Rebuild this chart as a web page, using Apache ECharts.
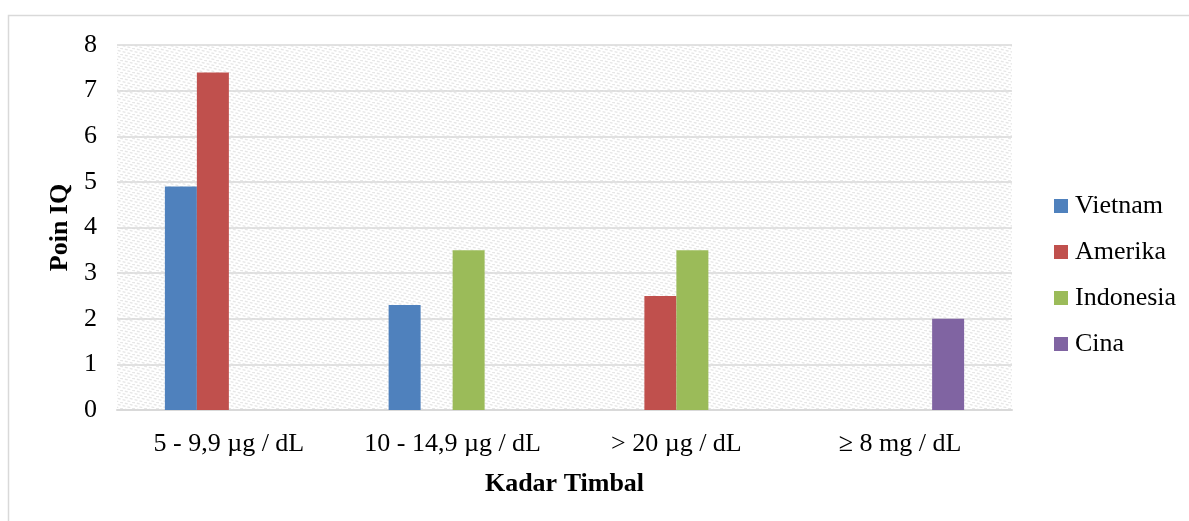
<!DOCTYPE html>
<html>
<head>
<meta charset="utf-8">
<script src="https://cdn.jsdelivr.net/npm/echarts@6/dist/echarts.min.js"></script>
<style>
html,body{margin:0;padding:0;background:#fff;}
#chart{width:1189px;height:521px;}
</style>
</head>
<body>
<div id="chart"></div>
<script>
const categories = ['5 - 9,9 µg / dL', '10 - 14,9 µg / dL', '> 20 µg / dL', '≥ 8 mg / dL'];
const vietnam   = [4.9, 2.3, null, null];
const amerika   = [7.4, null, 2.5, null];
const indonesia = [null, 3.5, 3.5, null];
const cina      = [null, null, null, 2];
const seriesNames = ['Vietnam', 'Amerika', 'Indonesia', 'Cina'];
const yTicks = [0, 1, 2, 3, 4, 5, 6, 7, 8];

function makePattern() {
  const c = document.createElement('canvas');
  c.width = 12; c.height = 6;
  const g = c.getContext('2d');
  g.fillStyle = '#ffffff';
  g.fillRect(0, 0, 12, 6);
  g.strokeStyle = '#e6e6e6';
  g.lineWidth = 1.4;
  g.setLineDash([3, 2]);
  g.beginPath();
  g.moveTo(-12, 0); g.lineTo(12, 6);
  g.moveTo(0, 0); g.lineTo(24, 6);
  g.stroke();
  return c;
}

const font = '"Liberation Serif", "Times New Roman", serif';
const chart = echarts.init(document.getElementById('chart'), null, {renderer: 'canvas'});
const colors = ['#4f81bd', '#c0504d', '#9bbb59', '#8064a2'];
const dataSets = [vietnam, amerika, indonesia, cina];

chart.setOption({
  animation: false,
  textStyle: {fontFamily: font},
  graphic: [{
    type: 'rect',
    shape: {x: 8.5, y: 15.5, width: 1200, height: 600},
    style: {fill: 'none', stroke: '#d9d9d9', lineWidth: 1.5},
    z: -10
  }],
  grid: {
    left: 117, right: 177, top: 45, bottom: 111,
    show: true,
    borderWidth: 0,
    backgroundColor: {image: makePattern(), repeat: 'repeat'}
  },
  legend: {
    orient: 'vertical',
    left: 1054,
    top: 193,
    padding: 0,
    itemWidth: 14,
    itemHeight: 14,
    itemGap: 20,
    icon: 'rect',
    data: seriesNames,
    textStyle: {fontFamily: font, fontSize: 26, color: '#000', padding: [0, 0, 0, 2]}
  },
  xAxis: {
    type: 'category',
    data: categories,
    name: 'Kadar Timbal',
    nameLocation: 'middle',
    nameGap: 61,
    nameTextStyle: {fontFamily: font, fontSize: 26, fontWeight: 'bold', color: '#000'},
    axisLine: {lineStyle: {color: '#d9d9d9', width: 2}},
    axisTick: {show: false},
    axisLabel: {fontFamily: font, fontSize: 26, color: '#000', margin: 21, interval: 0},
    splitLine: {show: false}
  },
  yAxis: {
    type: 'value',
    min: yTicks[0],
    max: yTicks[yTicks.length - 1],
    interval: 1,
    name: 'Poin IQ',
    nameLocation: 'middle',
    nameGap: 42,
    nameTextStyle: {fontFamily: font, fontSize: 26, fontWeight: 'bold', color: '#000'},
    axisLine: {show: false},
    axisTick: {show: false},
    axisLabel: {fontFamily: font, fontSize: 26, color: '#000', margin: 20},
    splitLine: {lineStyle: {color: '#d9d9d9', width: 1.5}}
  },
  series: dataSets.map((d, i) => ({
    name: seriesNames[i],
    type: 'bar',
    data: d,
    barWidth: 32,
    barGap: '0%',
    itemStyle: {color: colors[i]}
  }))
});
</script>
</body>
</html>
